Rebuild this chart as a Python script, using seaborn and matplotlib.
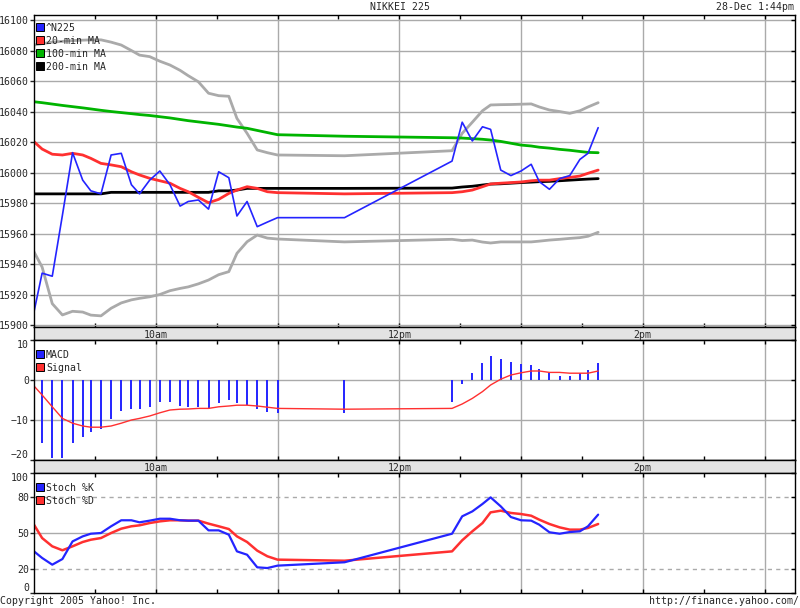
import matplotlib
matplotlib.use("Agg")
import matplotlib.pyplot as plt
from matplotlib.lines import Line2D
import pandas as pd
import seaborn as sns

# intraday sample times (Tokyo session, 28-Dec)
TIMES = ["9:00", "9:04", "9:09", "9:14", "9:19", "9:24", "9:28", "9:33", "9:38", "9:43",
         "9:48", "9:52", "9:57", "10:02", "10:07", "10:12", "10:16", "10:21", "10:26",
         "10:31", "10:36", "10:40", "10:45", "10:50", "10:55", "11:00", "11:33", "12:26",
         "12:31", "12:36", "12:41", "12:45", "12:50", "12:55", "13:00", "13:05", "13:09",
         "13:14", "13:19", "13:24", "13:29", "13:33", "13:38"]

N225 = [15908.7, 15934, 15932, 15972, 16013, 15995, 15988, 15986, 16011.5, 16012.6,
        15992, 15986, 15995, 16001, 15992, 15978, 15981, 15982, 15976, 16000.5, 15996.6,
        15971.5, 15981, 15964.5, 15967.5, 15970.4, 15970.4, 16007.5, 16033, 16020.7,
        16030, 16028.3, 16001.6, 15998, 16001, 16005.4, 15994, 15989, 15996, 15998,
        16008.6, 16012.6, 16029.4]
MA20 = [16020.2, 16015.4, 16012, 16011.5, 16012.6, 16011.5, 16009.3, 16006, 16005, 16003.8,
        16000.5, 15998.4, 15996.2, 15994.6, 15993, 15989.6, 15987.4, 15983.7, 15980.2,
        15982.4, 15986.3, 15988.5, 15990.7, 15989.6, 15987.4, 15986.8, 15986, 15986.8,
        15987.4, 15988.5, 15990.7, 15992.5, 15993, 15993.4, 15993.8, 15994.6, 15995,
        15995, 15996, 15996.8, 15997.7, 15999.5, 16001.6]
MA100 = [16046.4, 16045.8, 16044.9, 16044, 16043.2, 16042.4, 16041.7, 16040.8, 16040, 16039.3,
         16038.6, 16038, 16037.4, 16036.6, 16035.8, 16034.8, 16034, 16033.2, 16032.4,
         16031.6, 16030.6, 16029.8, 16029, 16027.6, 16026.2, 16024.8, 16023.8, 16022.8,
         16022.6, 16022.2, 16021.8, 16021.3, 16020.4, 16019.2, 16018, 16017.4, 16016.6,
         16016, 16015.2, 16014.6, 16013.8, 16013.2, 16013]
MA200 = [15986, 15986, 15986, 15986, 15986, 15986, 15986, 15986, 15987, 15987,
         15987, 15987, 15987, 15987, 15987, 15987, 15987, 15987, 15987, 15988, 15988,
         15988.5, 15989.6, 15989.6, 15989.6, 15989.6, 15989.6, 15989.8, 15990.5, 15991,
         15991.8, 15992.4, 15992.6, 15993, 15993.4, 15993.7, 15994, 15994.2, 15994.6,
         15995, 15995.4, 15995.7, 15996]
BAND_UPPER = [16083.6, 16084.5, 16085.5, 16086, 16086.5, 16086.8, 16087, 16087, 16085.5, 16083.6,
              16080, 16077, 16076, 16073, 16070.5, 16067, 16063.5, 16059.5, 16052, 16050.4,
              16050, 16035.5, 16025.7, 16014.8, 16013, 16011.5, 16011, 16014.3, 16025.7,
              16033, 16040.5, 16044.3, 16044.5, 16044.6, 16044.8, 16045, 16043, 16041,
              16040, 16038.8, 16040.5, 16043, 16045.8]
BAND_LOWER = [15948, 15938, 15914, 15906.6, 15909, 15908.5, 15906.5, 15906, 15911, 15914.5,
              15916.5, 15917.5, 15918.5, 15920, 15922.5, 15924, 15925, 15927, 15929.5,
              15933, 15935, 15947, 15954.6, 15959, 15957, 15956.4, 15954.5, 15956.2,
              15955.4, 15955.7, 15954.4, 15953.8, 15954.5, 15954.5, 15954.5, 15954.5,
              15955, 15955.7, 15956.2, 15956.8, 15957.3, 15958.2, 15960.8]

MACD = [-1.5, -15.7, -19.6, -19.4, -15.8, -14.2, -13.1, -12.3, -9.8, -7.7, -7.2, -7.3, -6.7,
        -5.6, -5.4, -6.4, -6.8, -6.8, -7.3, -5.8, -5.0, -5.8, -6.25, -7.3, -8.1, -8.3, -8.3,
        -5.4, -1.1, 1.7, 4.3, 6.0, 5.25, 4.6, 4.0, 3.75, 2.75, 1.7, 1.0, 1.1, 1.7, 2.5, 4.3]
SIGNAL = [-1.5, -3.75, -6.7, -9.6, -10.8, -11.5, -11.8, -11.8, -11.5, -10.8, -10.0, -9.6, -9.0,
          -8.2, -7.5, -7.3, -7.25, -7.1, -7.1, -6.7, -6.5, -6.3, -6.3, -6.5, -6.8, -7.1, -7.3,
          -7.1, -6.0, -4.6, -2.9, -1.25, 0.2, 1.25, 1.8, 2.25, 2.25, 1.9, 1.9, 1.7, 1.7, 1.7, 2.25]

STOCH_K = [34.7, 29.2, 23.6, 28.3, 43, 47.2, 49.4, 50, 55.6, 60.6, 60.6, 58.9, 60.3,
           61.9, 61.9, 60.6, 60.3, 60.3, 52.2, 52.2, 48.6, 34.7, 31.9, 21.4, 20.8, 22.8, 25.6,
           49.4, 63.9, 68, 74.2, 79.7, 72.2, 63.3, 60.6, 60.3, 56.9, 50.6, 49.4, 50.8, 51.4,
           55.6, 65.3]
STOCH_D = [56.9, 45.8, 38.9, 35.6, 38.9, 42.5, 44.4, 45.8, 50, 53.6, 55.6, 56.4, 58.3,
           59.7, 60.6, 60.6, 60.3, 60.3, 57.8, 55.6, 53.3, 47.2, 42.5, 35.3, 30.6, 27.8, 26.9,
           34.7, 43.9, 51.4, 58.3, 67.2, 68.6, 66.7, 65.8, 64.4, 61.1, 57.5, 54.7, 52.8, 52.8,
           54.2, 57.5]

PRICE_TICKS = [15900, 15920, 15940, 15960, 15980, 16000, 16020, 16040, 16060, 16080, 16100]
MACD_TICKS = [-20, -10, 0, 10]
STOCH_TICKS = [0, 20, 50, 80, 100]
HOUR_LABELS = {10: "10am", 12: "12pm", 14: "2pm"}

BLUE = "#2424ff"
RED = "#ff3030"
GREEN = "#00b400"
GRID = "#aaaaaa"
FONT = 7.1

W, H = 800, 608


def to_hours(stamps):
    return [int(h) + int(m) / 60 for h, m in (s.split(":") for s in stamps)]


def add_axes(fig, top_px, height_px):
    return fig.add_axes([34 / W, 1 - (top_px + height_px) / H, 761 / W, height_px / H])


def style_panel(ax, yticks, ylim):
    ax.set_xlim(9, 15.25)
    ax.set_ylim(*ylim)
    ax.set_xticks(range(10, 16))
    ax.set_xticks([9.5 + i for i in range(6)], minor=True)
    ax.set_xticklabels([])
    ax.set_yticks(yticks)
    ax.set_xlabel("")
    ax.set_ylabel("")
    ax.tick_params(axis="x", which="both", direction="in", top=True, bottom=True,
                   length=3, width=1, color="black")
    ax.tick_params(axis="y", which="major", direction="out", left=True, right=False,
                   length=3, width=1, pad=0.6, labelsize=FONT)
    ax.grid(axis="x", which="major", color=GRID, lw=1)
    for spine in ax.spines.values():
        spine.set_color("black")
        spine.set_linewidth(1)
        spine.set_visible(True)
    ax.set_facecolor("white")
    # inward ticks on the right edge
    for y in yticks:
        ax.plot([15.25 - 0.03, 15.25], [y, y], color="black", lw=1, clip_on=False,
                solid_capstyle="butt")


def add_legend(ax, labels, colors, top_frac):
    handles = [Line2D([], [], marker="s", linestyle="none", markersize=5.4,
                      markerfacecolor=c, markeredgecolor="black", markeredgewidth=0.7)
               for c in colors]
    ax.legend(handles, labels, loc="upper left", bbox_to_anchor=(0.004, 1 - top_frac),
              frameon=False, fontsize=FONT, handlelength=0.6, handletextpad=0.3,
              labelspacing=0.3, borderaxespad=0, borderpad=0)


def add_band(fig, top_px):
    band = add_axes(fig, top_px, 13)
    band.set_xlim(9, 15.25)
    band.set_ylim(0, 1)
    band.set_facecolor("#e3e3e3")
    band.set_xticks([])
    band.set_yticks([])
    for spine in band.spines.values():
        spine.set_color("black")
        spine.set_linewidth(1)
    for hour, label in HOUR_LABELS.items():
        band.text(hour, 0.4, label, ha="center", va="center", fontsize=FONT)
    return band


def main():
    sns.set_style("white")
    plt.rcParams["font.family"] = ["DejaVu Sans Mono"]

    hours = to_hours(TIMES)
    frame = pd.DataFrame({
        "hour": hours, "n225": N225, "ma20": MA20, "ma100": MA100, "ma200": MA200,
        "upper": BAND_UPPER, "lower": BAND_LOWER, "macd": MACD, "signal": SIGNAL,
        "k": STOCH_K, "d": STOCH_D,
    })

    fig = plt.figure(figsize=(W / 100, H / 100), dpi=100)

    # price panel
    ax = add_axes(fig, 15, 312)
    sns.lineplot(data=frame, x="hour", y="upper", ax=ax, color=GRID, lw=2)
    sns.lineplot(data=frame, x="hour", y="lower", ax=ax, color=GRID, lw=2)
    sns.lineplot(data=frame, x="hour", y="ma100", ax=ax, color=GREEN, lw=2)
    sns.lineplot(data=frame, x="hour", y="ma200", ax=ax, color="black", lw=2)
    sns.lineplot(data=frame, x="hour", y="ma20", ax=ax, color=RED, lw=2)
    sns.lineplot(data=frame, x="hour", y="n225", ax=ax, color=BLUE, lw=1.2)
    style_panel(ax, PRICE_TICKS, (15898.7, 16103.3))
    ax.grid(axis="y", color=GRID, lw=1)
    add_legend(ax, ["^N225", "20-min MA", "100-min MA", "200-min MA"],
               [BLUE, RED, GREEN, "black"], 0.025)

    add_band(fig, 327)

    # MACD panel
    ax2 = add_axes(fig, 340, 120)
    ax2.vlines(frame["hour"], 0, frame["macd"], color=BLUE, lw=1.4)
    sns.lineplot(data=frame, x="hour", y="signal", ax=ax2, color=RED, lw=1)
    style_panel(ax2, MACD_TICKS, (-20, 10))
    ax2.grid(axis="y", color=GRID, lw=1)
    labels = ax2.get_yticklabels()
    labels[0].set_verticalalignment("bottom")
    labels[-1].set_verticalalignment("top")
    add_legend(ax2, ["MACD", "Signal"], [BLUE, RED], 0.08)

    add_band(fig, 460)

    # stochastic panel
    ax3 = add_axes(fig, 473, 120)
    ax3.axhline(50, color=GRID, lw=1)
    ax3.axhline(20, color=GRID, lw=1, ls=(0, (3, 3)))
    ax3.axhline(80, color=GRID, lw=1, ls=(0, (3, 3)))
    sns.lineplot(data=frame, x="hour", y="d", ax=ax3, color=RED, lw=1.8)
    sns.lineplot(data=frame, x="hour", y="k", ax=ax3, color=BLUE, lw=1.6)
    style_panel(ax3, STOCH_TICKS, (0, 100))
    labels = ax3.get_yticklabels()
    labels[0].set_verticalalignment("bottom")
    labels[-1].set_verticalalignment("top")
    add_legend(ax3, ["Stoch %K", "Stoch %D"], [BLUE, RED], 0.08)

    fig.text(0.5, 1 - 7 / H, "NIKKEI 225", ha="center", va="center", fontsize=FONT)
    fig.text(794 / W, 1 - 7 / H, "28-Dec 1:44pm", ha="right", va="center", fontsize=FONT)
    fig.text(0.0, 1 - 601 / H, "Copyright 2005 Yahoo! Inc.", ha="left", va="center",
             fontsize=FONT)
    fig.text(799 / W, 1 - 601 / H, "http://finance.yahoo.com/", ha="right", va="center",
             fontsize=FONT)

    fig.savefig("out.png", dpi=100, facecolor="white")
    plt.close(fig)


if __name__ == "__main__":
    main()
